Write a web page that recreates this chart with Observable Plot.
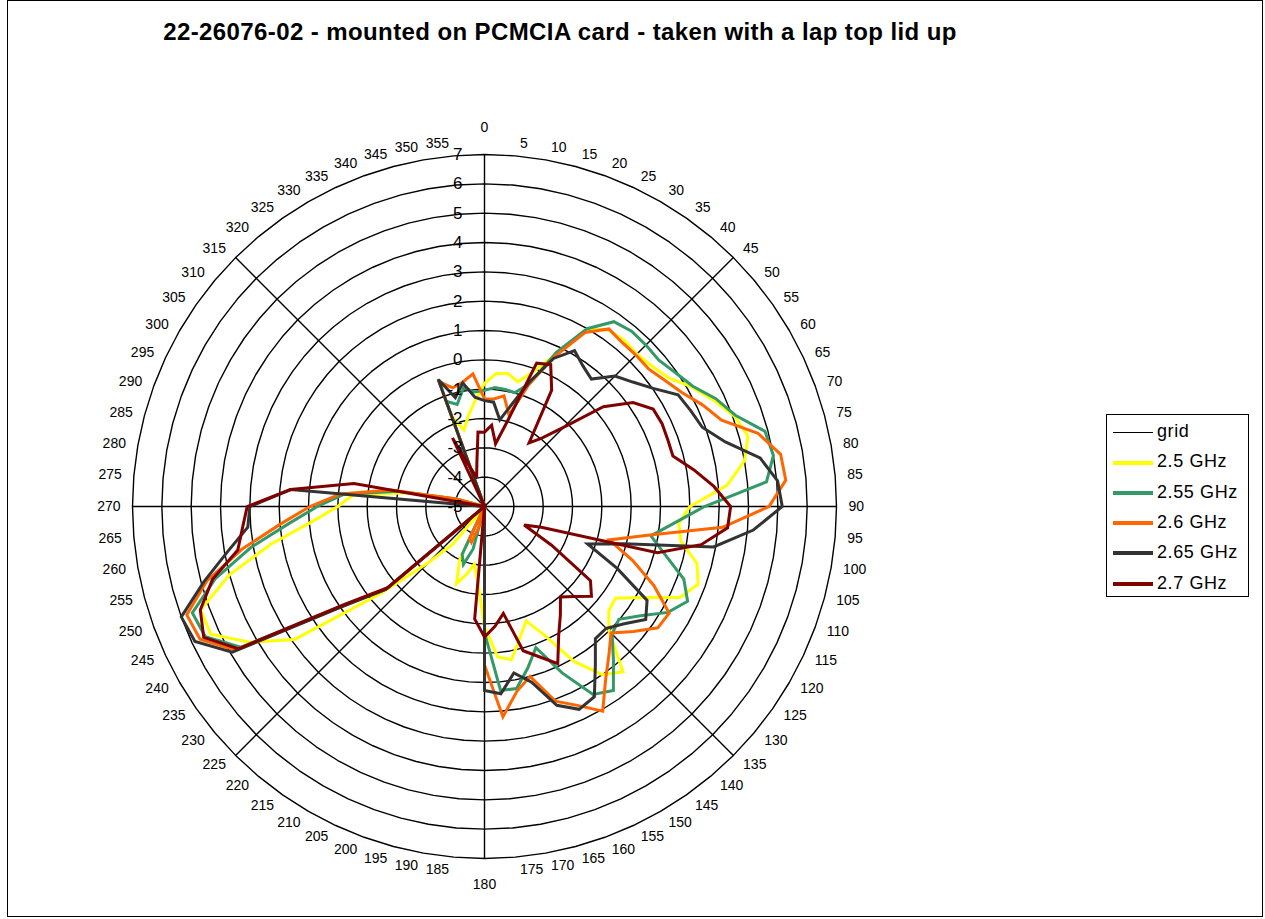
<!DOCTYPE html>
<html><head><meta charset="utf-8">
<script src="https://cdn.jsdelivr.net/npm/d3@7"></script>
<script src="https://cdn.jsdelivr.net/npm/@observablehq/plot@0.6"></script>
<style>
body{margin:0;background:#fff;}
#wrap{position:relative;width:1265px;height:919px;overflow:hidden;font-family:"Liberation Sans",Arial,sans-serif;background:#fff;}
#chart{position:absolute;left:0;top:0;}
#frame{position:absolute;left:7px;top:0px;width:1256px;height:917px;border:1px solid #000;box-sizing:border-box;pointer-events:none;}
#title{position:absolute;left:0;top:18px;width:1120px;text-align:center;font-weight:bold;font-size:24px;letter-spacing:0.4px;color:#000;}
#legend{position:absolute;left:1106px;top:414px;width:143px;height:183px;border:1px solid #000;box-sizing:border-box;background:#fff;}
.lrow{position:absolute;left:6px;height:22px;font-size:18px;line-height:22px;color:#000;white-space:nowrap;letter-spacing:0.6px;}
.lrow span.sw{display:inline-block;width:40px;vertical-align:middle;margin-right:4px;}
</style></head><body>
<div id="wrap">
<div id="chart"></div>
<div id="title">22-26076-02 - mounted on PCMCIA card - taken with a lap top lid up</div>
<div id="legend"></div>
<div id="frame"></div>
</div>
<script>
// categories: angle in degrees, 0..355 step 5
const angles = d3.range(0, 360, 5);
// radial value axis tick labels
const radialTicks = [-5,-4,-3,-2,-1,0,1,2,3,4,5,6,7];
const seriesNames = ["grid","2.5 GHz","2.55 GHz","2.6 GHz","2.65 GHz","2.7 GHz"];
const seriesColors = ["#000000","#FFFF00","#339966","#FF6600","#333333","#800000"];

// grid series: spokes every 45 degrees
const grid = angles.map(a => (a % 45 === 0 ? 7 : -5));

const ghz250 = [
 -0.8,-0.45,-0.4,-0.6,-0.1,0.7,2.0,2.35,2.4,2.35,2.45,2.65,
 3.15,3.6,4.05,4.3,4.0,3.3,2.0,1.65,1.8,2.5,2.75,2.35,
 1.2,0.45,0.53,1.0,2.35,2.0,1.1,-0.15,-0.85,-0.35,0.3,0.15,
 -0.9,-2.4,-3.0,-2.6,-2.2,-3.0,-5,-5,-3.35,-2.3,-0.4,2.9,
 4.25,5.3,5.3,4.0,2.4,0.9,0.0,-0.5,-2.3,-4.0,-5,-5,
 -5,-5,-5,-5,-5,-5,-5,-5,-1.72,-2.3,-1.85,-1.37];
const ghz255 = [
 -1.04,-0.93,-0.95,-0.98,-0.56,0.8,2.0,2.69,2.8,2.78,2.76,2.95,
 3.2,3.7,4.1,4.9,5.0,4.65,2.5,1.49,0.76,1.38,2.23,2.64,
 2.22,1.49,0.98,1.15,1.84,2.66,2.4,1.26,0.12,0.7,1.3,1.3,
 -0.7,-5,-5,-3.5,-2.9,-3.2,-5,-5,-5,-5,-0.6,0.9,
 4.6,5.5,5.6,4.5,3.1,1.7,0.7,-0.2,-2.0,-4.0,-5,-5,
 -5,-5,-5,-5,-5,-5,-5,-5,-1.18,-1.4,-0.89,-1.08];
const ghz260 = [
 -1.33,-1.32,-1.17,-1.77,-0.56,0.63,1.85,2.39,2.3,2.3,2.3,2.5,
 2.77,3.2,3.6,4.65,5.25,5.31,4.7,3.15,0.65,-0.6,0.37,1.37,
 2.27,2.21,1.63,1.1,1.6,2.2,3.06,2.48,2.06,1.0,1.39,2.2,
 0.4,-5,-5,-4.3,-3.7,-3.8,-5,-5,-5,-5,-0.7,0.9,
 4.8,5.7,5.8,4.8,3.4,2.0,0.95,-0.07,-1.76,-4.0,-5,-5,
 -5,-5,-5,-5,-5,-5,-5,-5,-0.47,-0.81,-0.7,-0.46];
const ghz265 = [
 -1.39,-1.43,-2.0,-1.39,-0.46,0.57,1.14,0.85,0.67,1.29,1.6,2.02,
 2.62,2.75,2.9,3.5,4.54,5.03,5.15,4.2,2.93,-0.09,-1.26,-0.01,
 1.4,1.71,1.22,0.87,0.88,1.59,2.49,2.63,2.21,1.2,0.76,1.41,
 1.27,-5,-5,-5,-5,-5,-5,-5,-5,-5,-0.6,1.0,
 4.93,5.89,6.0,4.9,3.9,3.1,3.0,1.63,-5,-5,-5,-5,
 -5,-5,-5,-5,-5,-5,-5,-5,-0.39,-1.16,-0.72,-1.26];
const ghz270 = [
 -2.47,-2.22,-2.83,-2.0,0.2,0.34,-0.42,-2.35,-1.96,-1.17,0.29,1.18,
 1.64,1.68,1.65,1.65,2.24,2.85,3.39,3.32,2.5,1.1,-2.94,-3.51,
 -2.36,-0.59,-0.24,-0.66,-0.97,-0.49,0.06,0.91,0.45,0.09,-1.3,-0.9,
 -0.55,-1.15,-5,-5,-5,-5,-5,-5,-5,-5,-0.7,0.8,
 4.7,5.56,5.31,4.6,3.54,3.28,3.09,1.64,-0.48,-5,-5,-5,
 -5,-5,-5,-5,-5,-5,-5,-2.42,-3.6,-3.97,-3.5,-2.45];

const seriesValues = [grid, ghz250, ghz255, ghz260, ghz265, ghz270];

// geometry
const W = 1265, H = 919, CX = 484, CY = 506, RPX = 352;
const VMIN = -5, VMAX = 7;
const K = RPX / (VMAX - VMIN); // px per unit
const rad = a => a * Math.PI / 180;
const px = (a, v) => (Math.max(v, VMIN) - VMIN) * Math.sin(rad(a));
const py = (a, v) => (Math.max(v, VMIN) - VMIN) * Math.cos(rad(a));

// rings (72-gons like Excel radar gridlines)
const ringPts = [];
for (const lv of radialTicks.filter(t => t > VMIN)) {
  for (const a of angles) ringPts.push({lv, x: px(a, lv), y: py(a, lv)});
}

// series points
const seriesPts = [];
seriesNames.forEach((name, si) => {
  seriesValues[si].forEach((v, i) => seriesPts.push({name, si, x: px(angles[i], v), y: py(angles[i], v)}));
});

// category labels, placed outside the outer ring
const catLabels = angles.map(a => {
  const s = Math.sin(rad(a)), c = Math.cos(rad(a));
  let side = a === 0 || a === 180 ? "mid" : (s > 0 ? "right" : "left");
  let x, y;
  if (side === "mid") { x = 0; y = (a === 0 ? 379 : -378) / K; }
  else { x = (360 * s + (s > 0 ? 4 : -4)) / K; y = 364.5 * c / K; }
  return {txt: String(a), side, x, y};
});

const marks = [
  Plot.line(ringPts, {x: "x", y: "y", z: "lv", curve: "linear-closed", stroke: "#000", strokeWidth: 1.4}),
];
seriesNames.forEach((name, si) => {
  marks.push(Plot.line(seriesPts.filter(d => d.si === si), {
    x: "x", y: "y", curve: "linear-closed", stroke: seriesColors[si],
    strokeWidth: si === 0 ? 1.4 : 3, strokeLinejoin: "miter", strokeMiterlimit: 3
  }));
});
const labOpts = {x: "x", y: "y", text: "txt", fontSize: 14, fill: "#000", lineAnchor: "middle"};
marks.push(Plot.text(catLabels.filter(d => d.side === "right"), {...labOpts, textAnchor: "start"}));
marks.push(Plot.text(catLabels.filter(d => d.side === "left"), {...labOpts, textAnchor: "end"}));
marks.push(Plot.text(catLabels.filter(d => d.side === "mid"), {...labOpts, textAnchor: "middle"}));
marks.push(Plot.text(radialTicks, {x: -22 / K, y: d => d - VMIN, text: d => String(d), fontSize: 17, fill: "#000", textAnchor: "end", lineAnchor: "middle"}));

const chart = Plot.plot({
  width: W, height: H,
  marginTop: 0, marginBottom: 0, marginLeft: 0, marginRight: 0,
  x: {domain: [-CX / K, (W - CX) / K], axis: null},
  y: {domain: [-(H - CY) / K, CY / K], axis: null},
  style: {fontFamily: "Liberation Sans, Arial, sans-serif", background: "transparent"},
  marks
});
document.getElementById("chart").appendChild(chart);

// legend
const lg = document.getElementById("legend");
seriesNames.forEach((name, i) => {
  const row = document.createElement("div");
  row.className = "lrow";
  row.style.top = (5 + i * 30.3) + "px";
  const sw = document.createElement("span");
  sw.className = "sw";
  sw.style.borderTop = (i === 0 ? 1.4 : 4) + "px solid " + seriesColors[i];
  row.appendChild(sw);
  row.appendChild(document.createTextNode(name));
  lg.appendChild(row);
});
</script>
</body></html>
